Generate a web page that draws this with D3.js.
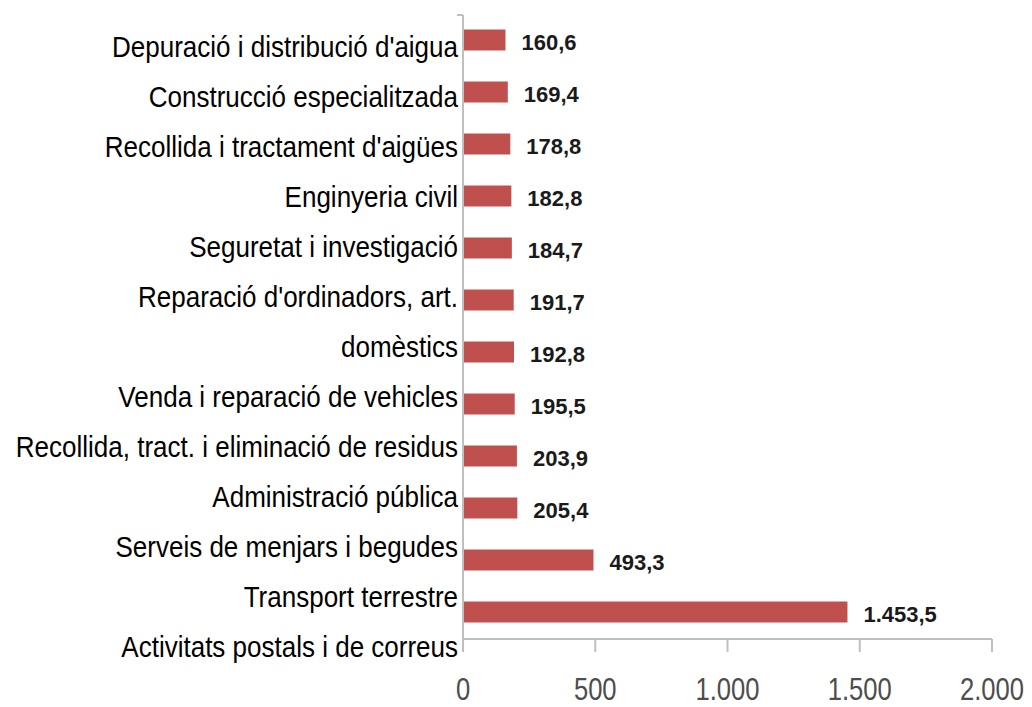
<!DOCTYPE html>
<html>
<head>
<meta charset="utf-8">
<script src="https://cdn.jsdelivr.net/npm/d3@7"></script>
<style>
  body { margin: 0; background: #fff; }
  svg { display: block; }
</style>
</head>
<body>
<svg id="chart" width="1032" height="707"></svg>
<script>
// bars, top to bottom
var sectors = ["Depuració i distribució d'aigua", "Construcció especialitzada",
  "Recollida i tractament d'aigües", "Enginyeria civil", "Seguretat i investigació",
  "Reparació d'ordinadors, art.", "domèstics", "Venda i reparació de vehicles",
  "Recollida, tract. i eliminació de residus", "Administració pública",
  "Serveis de menjars i begudes", "Transport terrestre"];
var values = [160.6, 169.4, 178.8, 182.8, 184.7, 191.7, 192.8, 195.5, 203.9, 205.4, 493.3, 1453.5];
var valueLabels = ["160,6", "169,4", "178,8", "182,8", "184,7", "191,7", "192,8", "195,5",
  "203,9", "205,4", "493,3", "1.453,5"];
// category labels as they sit in the picture (13 lines, shifted against the bars)
var axisLabels = ["Depuració i distribució d'aigua", "Construcció especialitzada",
  "Recollida i tractament d'aigües", "Enginyeria civil", "Seguretat i investigació",
  "Reparació d'ordinadors, art.", "domèstics", "Venda i reparació de vehicles",
  "Recollida, tract. i eliminació de residus", "Administració pública",
  "Serveis de menjars i begudes", "Transport terrestre", "Activitats postals i de correus"];
var xTicks = [0, 500, 1000, 1500, 2000];
var xTickLabels = ["0", "500", "1.000", "1.500", "2.000"];

var barColor = "#c0504d";
var axisColor = "#bfbfbf";
// no narrow font installed, so squeeze the regular one
var catSqueeze = 0.867;
var tickSqueeze = 0.8;

var svg = d3.select("#chart");

var x = d3.scaleLinear().domain([0, 2000]).range([463, 992]);
var y = d3.scalePoint().domain(sectors).range([14, 638]).padding(0.5);
var yLab = d3.scalePoint().domain(axisLabels).range([57, 657]);
var barH = 21;

// axes lines
svg.append("line")
  .attr("x1", x(0)).attr("x2", x(0))
  .attr("y1", 15).attr("y2", 652)
  .attr("stroke", axisColor).attr("stroke-width", 2);
svg.append("line")
  .attr("x1", x(0) - 6).attr("x2", x(0))
  .attr("y1", 15).attr("y2", 15)
  .attr("stroke", axisColor).attr("stroke-width", 2);
svg.append("line")
  .attr("x1", x(0)).attr("x2", x(2000))
  .attr("y1", 639).attr("y2", 639)
  .attr("stroke", axisColor).attr("stroke-width", 2);

svg.selectAll(".xtick")
  .data(xTicks)
  .enter()
  .append("line")
  .attr("class", "xtick")
  .attr("x1", function(d) { return x(d); })
  .attr("x2", function(d) { return x(d); })
  .attr("y1", 639).attr("y2", 652)
  .attr("stroke", axisColor).attr("stroke-width", 2);

svg.selectAll(".xlab")
  .data(xTicks)
  .enter()
  .append("text")
  .attr("class", "xlab")
  .attr("transform", function(d) { return "translate(" + x(d) + ",700) scale(" + tickSqueeze + ",1)"; })
  .attr("text-anchor", "middle")
  .style("font-family", "'Liberation Sans', Arial, sans-serif")
  .style("font-size", "32px")
  .style("fill", "#4d4d4d")
  .text(function(d, i) { return xTickLabels[i]; });

// bars
svg.selectAll(".bar")
  .data(values)
  .enter()
  .append("rect")
  .attr("class", "bar")
  .attr("x", x(0) + 1)
  .attr("y", function(d, i) { return y(sectors[i]) - barH / 2; })
  .attr("width", function(d) { return x(d) - x(0) - 1; })
  .attr("height", barH)
  .attr("fill", barColor);

// value labels
svg.selectAll(".val")
  .data(values)
  .enter()
  .append("text")
  .attr("class", "val")
  .attr("x", function(d) { return x(d) + 16; })
  .attr("y", function(d, i) { return y(sectors[i]) + 10; })
  .style("font-family", "'Liberation Sans', Arial, sans-serif")
  .style("font-weight", "bold")
  .style("font-size", "22px")
  .style("fill", "#1a1a1a")
  .text(function(d, i) { return valueLabels[i]; });

// category labels
svg.selectAll(".cat")
  .data(axisLabels)
  .enter()
  .append("text")
  .attr("class", "cat")
  .attr("transform", function(d) { return "translate(458," + yLab(d) + ") scale(" + catSqueeze + ",1)"; })
  .attr("text-anchor", "end")
  .style("font-family", "'Liberation Sans', Arial, sans-serif")
  .style("font-size", "30px")
  .style("fill", "#000")
  .text(function(d) { return d; });
</script>
</body>
</html>
